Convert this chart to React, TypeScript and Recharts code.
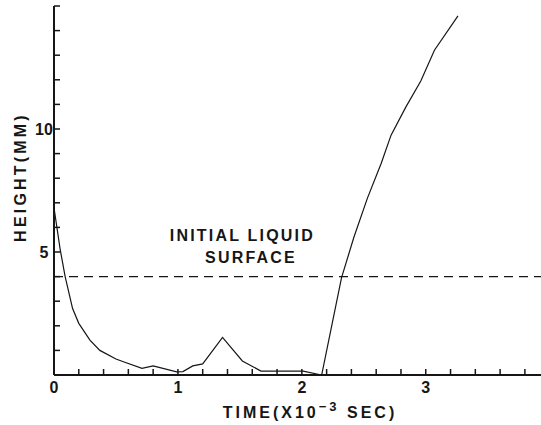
import React from 'react';
import { LineChart, Line, XAxis, YAxis, ReferenceLine, ReferenceDot } from 'recharts';

const TIME = [0, 0.05, 0.09, 0.15, 0.2, 0.29, 0.37, 0.5, 0.56, 0.71, 0.8, 0.99, 1.04, 1.12, 1.2, 1.36, 1.52, 1.67, 2.01, 2.16, 2.32, 2.42, 2.53, 2.64, 2.72, 2.84, 2.96, 3.07, 3.26];
const HEIGHT = [6.8, 5.1, 4.0, 2.7, 2.1, 1.42, 1.0, 0.65, 0.54, 0.27, 0.37, 0.13, 0.14, 0.37, 0.45, 1.53, 0.57, 0.16, 0.16, 0, 3.95, 5.6, 7.2, 8.6, 9.75, 10.9, 11.95, 13.2, 14.6];
const SURFACE_LEVEL = 4;
const X_DOMAIN: [number, number] = [0, 3.93];
const Y_DOMAIN: [number, number] = [0, 15];
const X_TICKS = [0, 0.2, 0.4, 0.6, 0.8, 1, 1.2, 1.4, 1.6, 1.8, 2, 2.2, 2.4, 2.6, 2.8, 3, 3.2, 3.4, 3.6, 3.8];
const X_LABELS = [0, 1, 2, 3];
const Y_TICKS = [0, 1, 2, 3, 4, 5, 6, 7, 8, 9, 10, 11, 12, 13, 14, 15];
const Y_LABELS = [5, 10];
const NOTE_LINE1 = { x: 1.52, y: 5.45, text: 'INITIAL LIQUID' };
const NOTE_LINE2 = { x: 1.59, y: 4.55, text: 'SURFACE' };

const data = TIME.map((t, i) => ({ time: t, height: HEIGHT[i] }));

const FONT = '"Liberation Sans", Arial, sans-serif';
const INK = '#161616';

const BottomTick = (props: any) => {
  const { x, y, payload } = props;
  const v = payload.value;
  const isLabel = X_LABELS.some((l) => Math.abs(l - v) < 1e-6);
  return (
    <g>
      <line x1={x} x2={x} y1={y} y2={y - 6} stroke={INK} strokeWidth={1.5} />
      {isLabel && (
        <text x={x} y={y + 18} textAnchor="middle" fontFamily={FONT} fontWeight="bold" fontSize={16} fill={INK}>
          {String(v)}
        </text>
      )}
    </g>
  );
};

const TopTick = (props: any) => {
  const { x, y } = props;
  return <line x1={x} x2={x} y1={y} y2={y + 6} stroke={INK} strokeWidth={1.5} />;
};

const LeftTick = (props: any) => {
  const { x, y, payload } = props;
  const v = payload.value;
  const isLabel = Y_LABELS.includes(v);
  return (
    <g>
      <line x1={x} x2={x + 6} y1={y} y2={y} stroke={INK} strokeWidth={1.5} />
      {isLabel && (
        <text x={x - 10} y={y + 6} textAnchor="middle" fontFamily={FONT} fontWeight="bold" fontSize={16} fill={INK}>
          {String(v)}
        </text>
      )}
    </g>
  );
};

const noteShape = (text: string) => (props: any) => {
  const { cx, cy } = props;
  return (
    <text x={cx} y={cy} textAnchor="middle" fontFamily={FONT} fontWeight="bold" fontSize={16} letterSpacing={2.2} fill={INK}>
      {text}
    </text>
  );
};

export default function App() {
  return (
    <div style={{ position: 'absolute', left: 0, top: 0, background: '#fff' }}>
      <LineChart width={541} height={425} data={data} margin={{ top: 6, right: 0, bottom: 0, left: 0 }}>
        <XAxis
          dataKey="time"
          type="number"
          domain={X_DOMAIN}
          allowDataOverflow
          ticks={X_TICKS}
          interval={0}
          height={50}
          tickSize={0}
          tickMargin={0}
          tickLine={false}
          axisLine={{ stroke: INK, strokeWidth: 2 }}
          tick={<BottomTick />}
          label={{
            content: () => (
              <text x={310} y={418} textAnchor="middle" fontFamily={FONT} fontWeight="bold" fontSize={16} letterSpacing={3} fill={INK}>
                TIME(X10
                <tspan dy={-7} fontSize={13}>−3</tspan>
                <tspan dy={7}> SEC)</tspan>
              </text>
            ),
          }}
        />
        <XAxis
          xAxisId="top"
          orientation="top"
          type="number"
          domain={X_DOMAIN}
          allowDataOverflow
          ticks={X_TICKS}
          interval={0}
          height={0}
          tickSize={0}
          tickMargin={0}
          tickLine={false}
          axisLine={{ stroke: INK, strokeWidth: 2 }}
          tick={<TopTick />}
        />
        <YAxis
          type="number"
          domain={Y_DOMAIN}
          allowDataOverflow
          ticks={Y_TICKS}
          interval={0}
          width={54}
          tickSize={0}
          tickMargin={0}
          tickLine={false}
          axisLine={{ stroke: INK, strokeWidth: 2 }}
          tick={<LeftTick />}
          label={{
            content: () => (
              <text
                x={20}
                y={177}
                transform="rotate(-90 20 177)"
                textAnchor="middle"
                dominantBaseline="central"
                fontFamily={FONT}
                fontWeight="bold"
                fontSize={16}
                letterSpacing={3.2}
                fill={INK}
              >
                HEIGHT(MM)
              </text>
            ),
          }}
        />
        <ReferenceLine y={SURFACE_LEVEL} stroke={INK} strokeWidth={1.2} strokeDasharray="9 6" />
        <ReferenceDot x={NOTE_LINE1.x} y={NOTE_LINE1.y} r={0} shape={noteShape(NOTE_LINE1.text)} />
        <ReferenceDot x={NOTE_LINE2.x} y={NOTE_LINE2.y} r={0} shape={noteShape(NOTE_LINE2.text)} />
        <Line
          type="linear"
          dataKey="height"
          stroke={INK}
          strokeWidth={1.2}
          dot={false}
          isAnimationActive={false}
        />
      </LineChart>
    </div>
  );
}
